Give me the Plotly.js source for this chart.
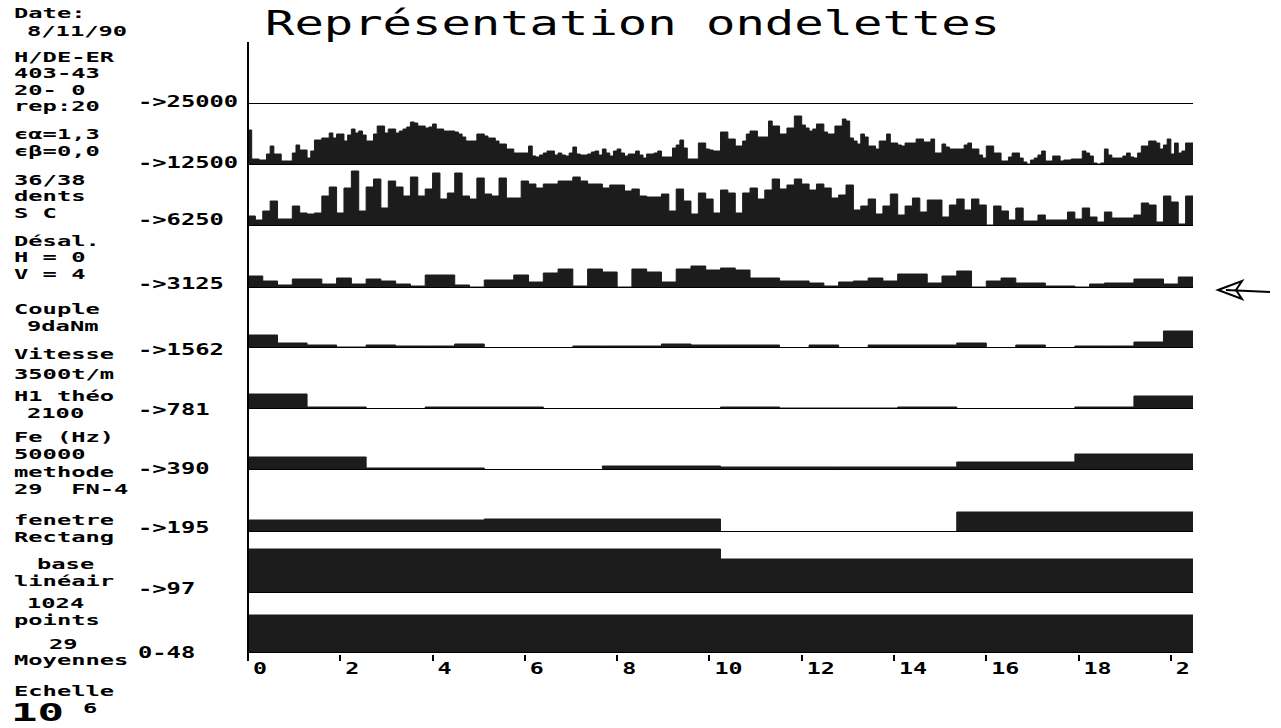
<!DOCTYPE html>
<html>
<head>
<meta charset="utf-8">
<script src="https://cdn.plot.ly/plotly-3.0.1.min.js"></script>
<style>html,body{margin:0;padding:0;background:#fff;}#chart{width:1281px;height:728px;}</style>
</head>
<body>
<div id="chart"></div>
<script>
// ---------------- DATA (amplitudes, per wavelet band) ----------------
const bandNames = ['->25000','->12500','->6250','->3125','->1562','->781','->390','->195','->97','0-48'];
const b25000 = [0];
const b12500 = [35,6,6,5,5,11,19,11,11,4,4,4,12,20,15,15,7,14,25,25,27,27,32,27,31,31,24,30,36,32,34,30,24,24,31,39,39,32,36,36,
32,34,36,38,43,42,39,39,37,38,41,36,36,34,34,34,33,31,28,24,24,24,31,31,29,27,27,24,21,21,16,16,12,12,12,12,19,9,8,10,
12,14,14,10,12,10,9,12,18,11,10,10,11,13,14,10,16,12,9,14,16,12,9,11,11,14,10,7,11,11,12,14,8,8,8,17,20,25,17,6,
6,6,22,22,16,15,14,14,33,33,26,26,19,19,24,31,34,34,28,28,28,44,39,39,31,31,37,37,49,49,40,37,34,36,41,41,33,31,31,39,
39,46,44,27,24,21,31,28,19,19,16,24,24,31,22,22,20,19,22,22,22,26,26,23,23,26,12,12,21,18,16,16,16,16,20,22,16,16,10,7,
19,19,12,12,4,4,8,12,12,7,3,1,5,7,10,14,4,4,9,9,4,5,5,6,6,6,14,12,9,2,1,2,16,10,7,7,7,9,12,8,
7,12,19,19,24,24,22,16,20,26,11,22,12,14,22,22];
const b6250 = [10,6,15,25,7,7,20,13,12,13,30,39,13,38,55,15,39,47,18,45,39,30,49,30,37,53,27,33,53,30,27,48,32,30,48,28,28,45,42,38,
42,42,45,45,49,45,42,42,38,41,41,35,37,30,29,29,32,15,37,25,12,33,27,13,36,33,13,33,38,27,36,47,37,41,47,42,36,42,38,28,
31,41,16,20,27,12,20,32,11,20,28,14,26,26,9,21,27,16,27,21,1,20,15,6,18,5,5,11,6,6,6,14,7,18,9,4,14,8,8,8,
11,23,21,4,30,24,2,30];
const b3125 = [12,7,3,9,9,4,10,4,9,7,4,2,13,13,3,1,8,8,13,6,15,19,2,19,16,1,19,16,6,19,22,18,20,18,10,10,7,7,5,2,
6,7,10,7,14,14,5,12,17,1,7,10,5,5,2,2,1,4,5,5,9,9,4,11];
const b1562 = [13,5,3,1,3,2,2,4,0,0,0,2,2,2,4,3,3,3,0,3,0,3,3,3,5,0,3,0,2,2,6,17];
const b781 = [15,2,0,2,2,0,0,0,2,1,1,2,0,0,2,13];
const b390 = [13,2,0,4,3,3,8,16];
const b195 = [12,13,0,20];
const b97 = [44,34];
const b048 = [38];
const duration = 20.48; // ms (1024 points at 50000 Hz)
const tickVals = [0,2,4,6,8,10,12,14,16,18,20];
const tickLabels = ['0','2','4','6','8','10','12','14','16','18','2'];
const sideText = ['Date:','8/11/90','H/DE-ER','403-43','20- 0','rep:20','ϵα=1,3','ϵβ=0,0','36/38','dents','S C',
  'Désal.','H = 0','V = 4','Couple','9daNm','Vitesse','3500t/m','H1 théo','2100','Fe (Hz)','50000','methode',
  '29\u00a0\u00a0FN-4','fenetre','Rectang','base','linéair','1024','points','29','Moyennes','Echelle'];
const scaleBase = '10';
const scaleExp = '6';
const titleText = 'Représentation ondelettes';

// ---------------- LAYOUT GEOMETRY ----------------
const L = 248, R = 1193, T = 40, B = 654;
const W = R - L, H = B - T;
const px2x = px => (px - L) / W;
const py2y = py => (B - py) / H;
const bandH = 61;
const bandVals = [b25000,b12500,b6250,b3125,b1562,b781,b390,b195,b97,b048];
const baseY = [104,165,226,288,348,409,470,532,593,653];
const labelY = [101,162,219,283,349,409,468,527,588,652];
// [left x, centre y] of each side line, in pixels
const sidePos = [[12,13],[25,31],[12,56.75],[12,73.25],[12,89.75],[12,106.25],[12,134.25],[12,150.75],
  [12,179.8],[12,196.3],[12,212.8],[12,240.8],[12,257.3],[12,273.8],[12,309.25],[25,325.75],[12,354],[12,374],
  [12,396.25],[25,412.75],[12,437],[12,453.5],[12,472],[12,488.5],[12,520.25],[12,536.75],
  [35,564.25],[12,580.75],[25,603.25],[12,619.75],[47,643.75],[12,660.25],[12,691]];

const ink = '#1c1c1c';
const mono = 'DejaVu Sans Mono';
const CW = 14.3;  // character advance of the reference's pixel font
const traces = [];
const annCW = [];
const layout = {
  width: 1281, height: 728,
  margin: {l: L, r: 1281 - R, t: T, b: 728 - B, pad: 0},
  paper_bgcolor: '#fff', plot_bgcolor: '#fff',
  showlegend: false,
  title: {text: titleText, font: {family: mono, size: 34, color: '#000'},
          xref: 'container', yref: 'container', x: 265 / 1281, xanchor: 'left', y: 1 - 23 / 728, yanchor: 'middle'},
  xaxis: {range: [0, duration], anchor: 'free', position: 0, showgrid: false, zeroline: false, showline: false,
          ticks: 'outside', ticklen: 6, tickwidth: 2, tickcolor: '#000',
          tickvals: tickVals, ticktext: tickLabels, ticklabelposition: 'outside right', ticklabelshift: 4,
          tickfont: {family: mono, size: 16, color: '#000', weight: 700}, fixedrange: true},
  shapes: [], annotations: []
};
function addText(text, x, y, size, cw) {
  layout.annotations.push({xref: 'paper', yref: 'paper', x: px2x(x), y: py2y(y), xanchor: 'left', yanchor: 'middle',
    align: 'left', showarrow: false, text: text, font: {family: mono, size: size, color: '#000', weight: 700}});
  annCW.push(cw);
}

bandVals.forEach((vals, k) => {
  const n = vals.length;
  const bw = duration / n;
  const ax = k === 0 ? 'y' : 'y' + (k + 1);
  const axKey = k === 0 ? 'yaxis' : 'yaxis' + (k + 1);
  const b = baseY[k];
  layout[axKey] = {domain: [py2y(b), Math.min(1, py2y(b - bandH))], range: [0, bandH], visible: false, fixedrange: true};
  const xs = [], ys = [];
  for (let i = 0; i <= n; i++) { xs.push(i * bw); ys.push(vals[Math.min(i, n - 1)]); }
  traces.push({type: 'scatter', mode: 'lines', x: xs, y: ys, xaxis: 'x', yaxis: ax,
    line: {shape: 'hv', color: ink, width: 1}, fill: 'tozeroy', fillcolor: ink, hoverinfo: 'skip'});
  layout.shapes.push({type: 'line', xref: 'paper', x0: 0, x1: 1, yref: ax, y0: 0, y1: 0, line: {color: '#000', width: 2}});
  addText(bandNames[k], 136, labelY[k], 16, CW);
});

// left vertical axis line
layout.shapes.push({type: 'line', xref: 'paper', yref: 'paper', x0: 0, x1: 0, y0: py2y(660), y1: py2y(42), line: {color: '#000', width: 2}});
// arrow at right pointing to the 3125 band
const P = (x, y) => px2x(x).toFixed(5) + ',' + py2y(y).toFixed(5);
layout.shapes.push({type: 'path', xref: 'paper', yref: 'paper',
  path: 'M' + P(1218, 290) + ' L' + P(1242, 281) + ' L' + P(1236, 290) + ' L' + P(1242, 299) + ' Z',
  line: {color: '#000', width: 2}});
layout.shapes.push({type: 'line', xref: 'paper', yref: 'paper', x0: px2x(1226), y0: py2y(290), x1: px2x(1270), y1: py2y(292),
  line: {color: '#000', width: 2}});

// left-hand information column
sideText.forEach((t, i) => addText(t, sidePos[i][0], sidePos[i][1], 14, CW));
addText(scaleBase, 9, 713.3, 24, 26.5);
addText(scaleExp, 81, 708, 14, CW);

function finish(gd) {
  layout.annotations.forEach((a, i) => {
    const el = gd.querySelector('.annotation[data-index="' + i + '"] .annotation-text');
    if (!el) return;
    el.setAttribute('textLength', (el.textContent.length * annCW[i]).toFixed(1));
    el.setAttribute('lengthAdjust', 'spacingAndGlyphs');
  });
  const tt = gd.querySelector('.gtitle');
  if (tt) { tt.setAttribute('textLength', (titleText.length * 29.4).toFixed(1)); tt.setAttribute('lengthAdjust', 'spacingAndGlyphs'); }
  gd.querySelectorAll('.xtick text').forEach(el => {
    el.setAttribute('textLength', (el.textContent.length * 14).toFixed(1));
    el.setAttribute('lengthAdjust', 'spacingAndGlyphs');
  });
}

Plotly.newPlot('chart', traces, layout, {staticPlot: true, displayModeBar: false}).then(finish);
</script>
</body>
</html>
